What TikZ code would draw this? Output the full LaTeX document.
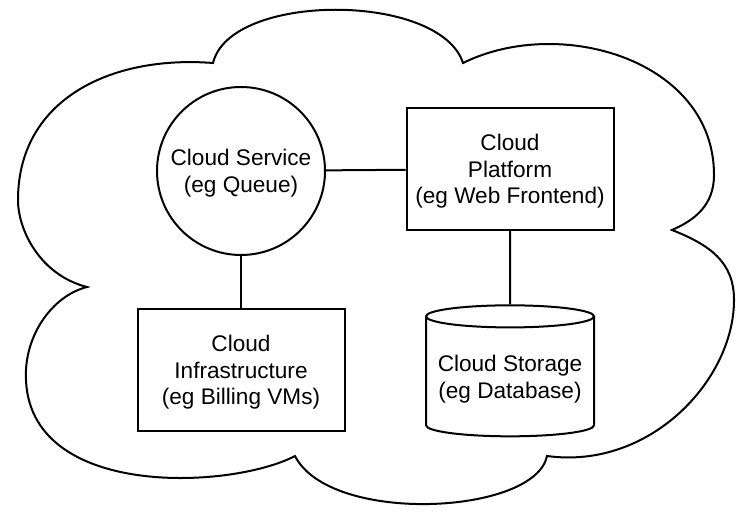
\documentclass[tikz,border=0pt]{standalone}
\usepackage{fontspec}
\setmainfont{Liberation Sans}
\usetikzlibrary{shapes.geometric}

\begin{document}
\begin{tikzpicture}[x=0.5pt,y=-0.5pt,line width=1pt,
  font=\fontsize{11.3}{13.25}\selectfont,
  box/.style={draw, rectangle, align=center, text depth=0pt, minimum width=103.5pt, minimum height=61pt},
  service/.style={draw, circle, align=center, text depth=0pt, minimum size=84pt},
  store/.style={draw, cylinder, shape border rotate=90, aspect=0.14, align=center, minimum width=84pt, minimum height=65.5pt}]
\useasboundingbox (0,0) rectangle (748,518);
% cloud outline
\draw (213,63) .. controls (230,-8) and (440,-8) .. (463,63)
  .. controls (560,15) and (714,60) .. (714,175)
  .. controls (714,205) and (695,220) .. (672,230)
  .. controls (710,245) and (734,262) .. (734,300)
  .. controls (734,380) and (650,470) .. (547,456)
  .. controls (535,515) and (330,525) .. (295,456)
  .. controls (230,490) and (20,500) .. (26,370)
  .. controls (28,330) and (55,295) .. (87,287)
  .. controls (40,275) and (18,230) .. (18,200)
  .. controls (18,100) and (110,55) .. cycle;
% parts
\node (svc) at (241,171) [service] {Cloud Service\\(eg Queue)};
\node (plat) at (510,169) [box] {Cloud\\Platform\\(eg Web Frontend)};
\node (infra) at (241,370) [box] {Cloud\\Infrastructure\\(eg Billing VMs)};
\node (db) at (510,379) [store] {Cloud Storage\\(eg Database)};
\draw (svc) to (plat);
\draw (svc) to (infra);
\draw (plat) to (db);
\end{tikzpicture}
\end{document}
